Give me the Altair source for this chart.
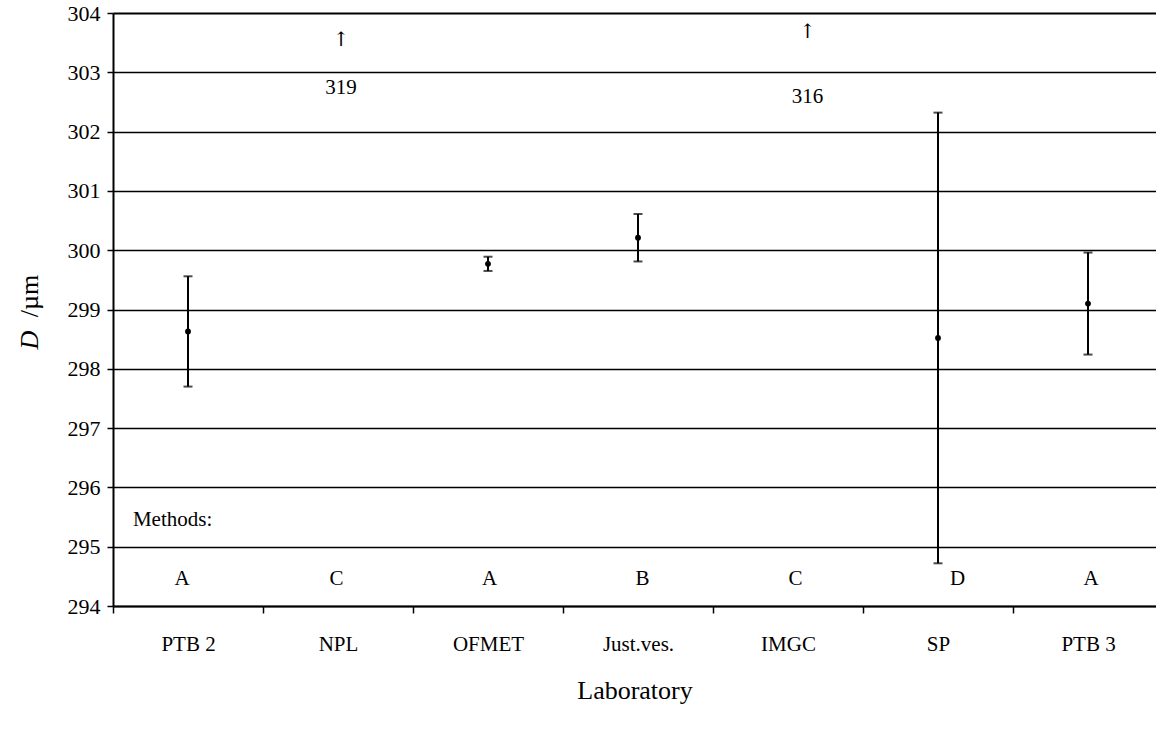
import altair as alt
import pandas as pd

# ---- data ----
labs = ["PTB 2", "NPL", "OFMET", "Just.ves.", "IMGC", "SP", "PTB 3"]
d_value = [298.63, None, 299.77, 300.21, None, 298.52, 299.10]
d_unc = [0.93, None, 0.12, 0.40, None, 3.80, 0.86]
methods = ["A", "C", "A", "B", "C", "D", "A"]
method_pos = [0.46, 1.49, 2.51, 3.53, 4.55, 5.63, 6.52]
method_y = 294.45

off_x = [1.52, 4.63]
off_text = ["319", "316"]
off_arrow_y = [303.55, 303.68]
off_text_y = [302.73, 302.58]

FONT = "Liberation Serif"
PX_PER_BAND = 150
W = 1043
H = 593
XMAX = W / PX_PER_BAND

rows = []
for i, (lab, v, u) in enumerate(zip(labs, d_value, d_unc)):
    if v is None:
        continue
    rows.append({"lab": lab, "x": i + 0.5, "v": v, "lo": v - u, "hi": v + u})
df = pd.DataFrame(rows)
dm = pd.DataFrame({"x": method_pos, "m": methods, "y": [method_y] * len(methods)})
doff = pd.DataFrame({"x": off_x, "t": off_text, "ya": off_arrow_y, "yt": off_text_y})

label_arr = "[" + ",".join("'" + l + "'" for l in labs) + "]"
xvals = []
for i in range(len(labs)):
    xvals += [i, i + 0.5]

xscale = alt.Scale(domain=[0, XMAX], nice=False, zero=False)
yscale = alt.Scale(domain=[294, 304], nice=False, zero=False)

xaxis = alt.Axis(
    values=xvals,
    labelExpr=f"datum.value % 1 == 0 ? '' : {label_arr}[floor(datum.value)]",
    tickSize={"condition": {"test": "datum.value % 1 == 0", "value": 7}, "value": 0},
    tickColor="black", tickWidth=1.5,
    domainColor="black", domainWidth=2,
    grid=False, labelOverlap=False, labelBound=False,
    labelFont=FONT, labelFontSize=21, labelColor="black", labelPadding=27,
    title="Laboratory", titleFont=FONT, titleFontSize=26, titleFontWeight="normal",
    titleColor="black", titlePadding=16,
)
yaxis = alt.Axis(
    values=list(range(294, 305)), format="d",
    tickSize=6, tickColor="black", tickWidth=1.5,
    domainColor="black", domainWidth=2,
    grid=True, gridColor="black",
    gridWidth={"condition": {"test": "datum.value == 304", "value": 2.2}, "value": 1.3},
    labelFont=FONT, labelFontSize=22, labelColor="black", labelPadding=7,
    title=None,
)

base = alt.Chart(df)
bars = base.mark_rule(color="black", strokeWidth=2).encode(
    x=alt.X("x:Q", scale=xscale, axis=xaxis),
    y=alt.Y("lo:Q", scale=yscale, axis=yaxis),
    y2="hi:Q",
)
cap_hi = base.mark_tick(color="black", orient="horizontal", size=9, thickness=2).encode(
    x="x:Q", y="hi:Q")
cap_lo = base.mark_tick(color="black", orient="horizontal", size=9, thickness=2).encode(
    x="x:Q", y="lo:Q")
pts = base.mark_point(filled=True, color="black", size=34, opacity=1).encode(
    x="x:Q", y="v:Q")

meth = alt.Chart(dm).mark_text(font=FONT, fontSize=21, color="black").encode(
    x="x:Q", y="y:Q", text="m:N")
meth_title = alt.Chart(pd.DataFrame({"x": [0.133], "y": [295.45], "t": ["Methods:"]})).mark_text(
    font=FONT, fontSize=21, color="black", align="left").encode(x="x:Q", y="y:Q", text="t:N")

arrows = alt.Chart(doff).mark_text(font="DejaVu Serif", fontSize=20, color="black").encode(
    x="x:Q", y="ya:Q", text=alt.value("↑"))
offtxt = alt.Chart(doff).mark_text(font=FONT, fontSize=21, color="black").encode(
    x="x:Q", y="yt:Q", text="t:N")

ytitle_d = alt.Chart(pd.DataFrame({"t": ["D"]})).mark_text(
    font=FONT, fontSize=26, fontStyle="italic", color="black", angle=270).encode(
    x=alt.value(-83), y=alt.value(327), text="t:N")
ytitle_u = alt.Chart(pd.DataFrame({"t": ["/µm"]})).mark_text(
    font=FONT, fontSize=26, color="black", angle=270).encode(
    x=alt.value(-83), y=alt.value(283), text="t:N")

chart = alt.layer(
    bars, cap_hi, cap_lo, pts, meth, meth_title, arrows, offtxt, ytitle_d, ytitle_u
).properties(
    width=W, height=H,
    autosize=alt.AutoSizeParams(type="none"),
    padding={"left": 113, "top": 13, "right": 0, "bottom": 125},
    background="white",
).configure_view(strokeWidth=0)

chart.save("out.html", embed_options={"renderer": "svg", "actions": False})
